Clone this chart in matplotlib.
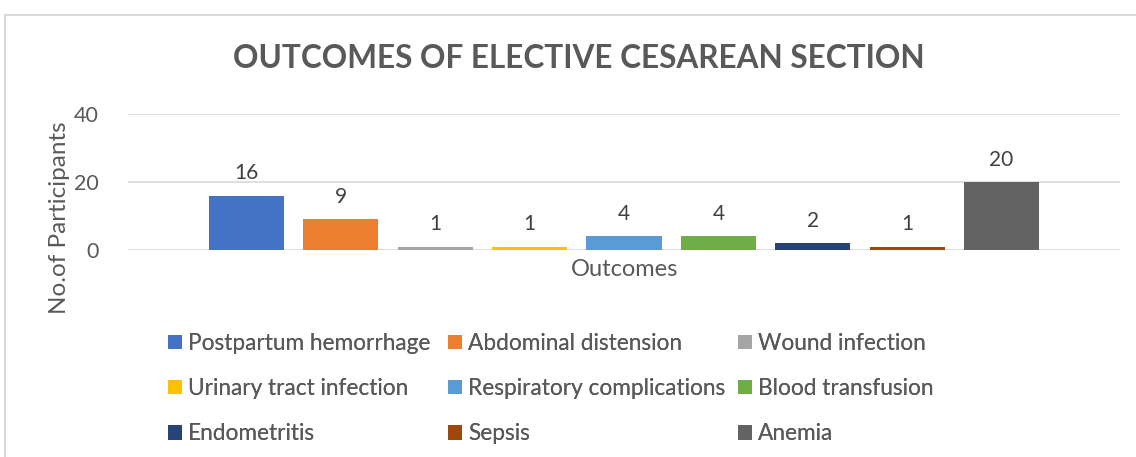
import matplotlib.pyplot as plt
from matplotlib.patches import Rectangle, Patch

# ── Data ──────────────────────────────────────────────────────────────────────
outcomes = ["Postpartum hemorrhage", "Abdominal distension", "Wound infection",
            "Urinary tract infection", "Respiratory complications", "Blood transfusion",
            "Endometritis", "Sepsis", "Anemia"]
counts = [16, 9, 1, 1, 4, 4, 2, 1, 20]
colors = ["#4472C4", "#ED7D31", "#A5A5A5", "#FFC000", "#5B9BD5",
          "#70AD47", "#264478", "#9E480E", "#636363"]
yticks = [0, 20, 40]

W, H = 1136, 457
TXT = "#595959"
plt.rcParams["font.family"] = ["Lato", "DejaVu Sans"]

fig = plt.figure(figsize=(W / 100, H / 100), dpi=100)

# chart border
fig.add_artist(Rectangle((5 / W, -0.1), 1.2, 1 - 15 / H + 0.1, transform=fig.transFigure,
                         fill=False, edgecolor="#D9D9D9", lw=1.5))

ax = fig.add_axes([128 / W, 1 - 250 / H, 992 / W, 136 / H])
x = list(range(len(counts)))
ax.bar(x, counts, width=0.795, color=colors)
for xi, v in zip(x, counts):
    ax.annotate(str(v), (xi, v), xytext=(0, 9), textcoords="offset points",
                ha="center", va="bottom", fontsize=15, color="#404040")

ax.set_xlim(4 - 5.255, 4 + 5.255)
ax.set_ylim(0, 40)
ax.set_yticks(yticks)
ax.tick_params(axis="y", length=0, labelsize=15.5, labelcolor=TXT, pad=21)
ax.set_xticks([])
ax.grid(axis="y", color="#D9D9D9", lw=1.2)
ax.set_axisbelow(True)
for s in ax.spines.values():
    s.set_visible(False)

fig.text(625 / W, 1 - 270 / H, "Outcomes", ha="center", va="center", fontsize=17, color=TXT)
fig.text(60 / W, 1 - 218 / H, "No.of Participants", ha="center", va="center",
         rotation=90, fontsize=17.5, color=TXT)
title = fig.text(579 / W, 1 - 58 / H, "OUTCOMES OF ELECTIVE CESAREAN SECTION", ha="center",
                 va="center", fontsize=26, fontweight="bold", color=TXT)

# fit the title to the reference width
r = fig.canvas.get_renderer()
wpx = title.get_window_extent(r).width
title.set_fontsize(26 * 692 / wpx)

# legend: three columns placed one by one
col_x = [168, 448, 738]
for c in range(3):
    idx = [c, c + 3, c + 6]
    leg = fig.legend([Patch(facecolor=colors[i]) for i in idx], [outcomes[i] for i in idx],
                     loc="upper left", bbox_to_anchor=(col_x[c] / W, 1 - 333 / H),
                     frameon=False, fontsize=16.3, labelcolor=TXT, handlelength=0.6,
                     handleheight=0.6, handletextpad=0.28, labelspacing=1.07,
                     borderpad=0, borderaxespad=0)
    fig.add_artist(leg)

fig.savefig("out.png", dpi=100)
